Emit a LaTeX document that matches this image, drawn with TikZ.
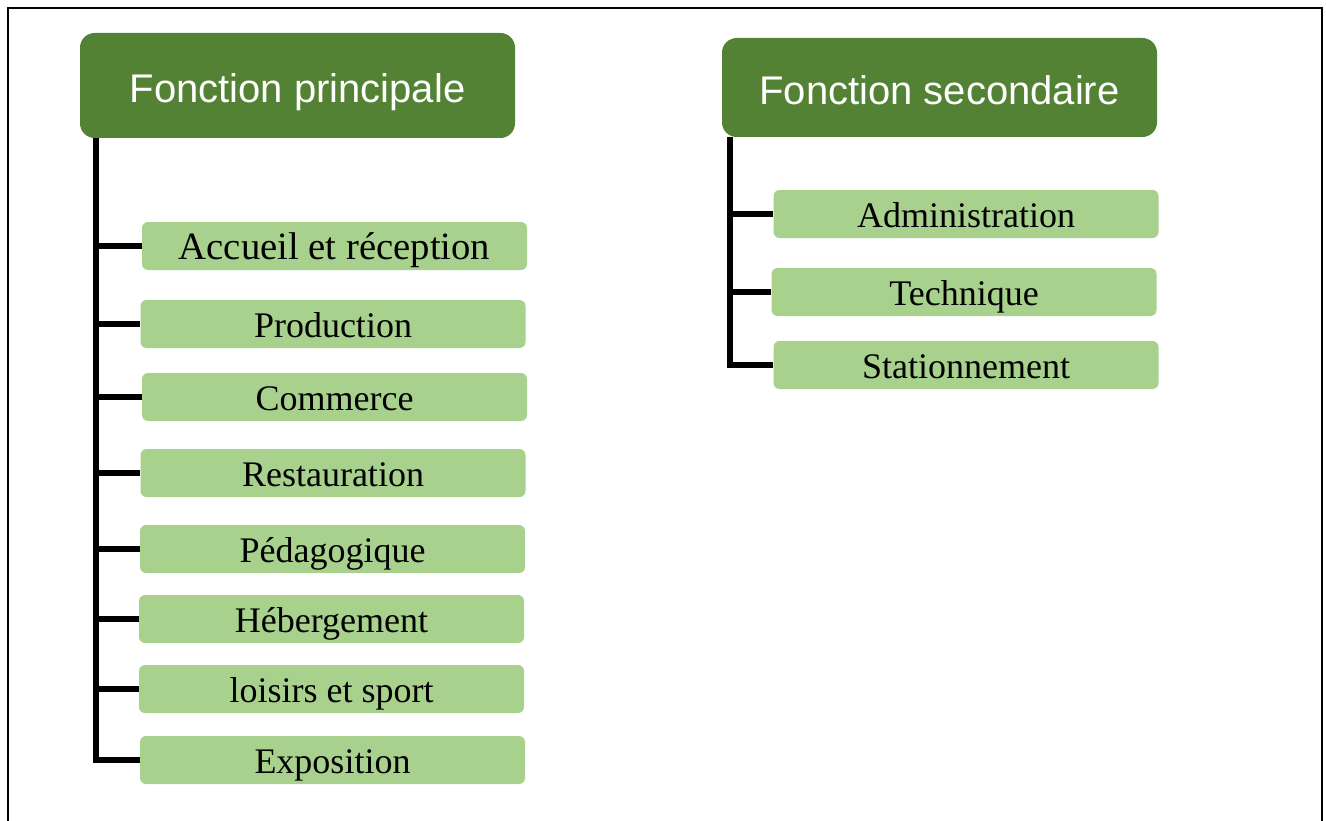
\documentclass[tikz,border=0pt]{standalone}
\usepackage{fontspec}
\setmainfont{Liberation Serif}
\newfontfamily\headfont{Liberation Sans}
\definecolor{darkgreen}{HTML}{548235}
\definecolor{lightgreen}{HTML}{A9D18E}
\begin{document}
\begin{tikzpicture}[x=0.75pt,y=-0.75pt,
  head/.style={fill=darkgreen,draw=none,rounded corners=11pt,inner sep=0pt,
    minimum width=326.25pt,text=white,font=\headfont\fontsize{30}{36}\selectfont,
    text height=25.2pt,text depth=0pt},
  item/.style={fill=lightgreen,draw=none,rounded corners=4.5pt,inner sep=0pt,
    minimum width=288.75pt,minimum height=36pt,text=black,
    font=\fontsize{27}{32}\selectfont,text height=19.5pt,text depth=0pt},
  conn/.style={line width=3.9pt,draw=black,line cap=butt,line join=miter},
  frame/.style={line width=2.2pt,draw=black}]
\useasboundingbox (0,0) rectangle (1326,820);
\draw[frame] (8,8) rectangle (1322,840);
% headers
\node[head,minimum height=78.75pt] (h1) at (297.5,85.5) {Fonction principale};
\node[head,minimum height=74.25pt] (h2) at (939.5,87.5) {Fonction secondaire};
% left items
\node[item,font=\fontsize{29}{34}\selectfont,text height=20.9pt] (a) at (334.5,246) {Accueil et réception};
\node[item] (b) at (333,324) {Production};
\node[item] (c) at (334.5,397) {Commerce};
\node[item] (d) at (333,473) {Restauration};
\node[item] (e) at (332.5,549) {Pédagogique};
\node[item] (f) at (331.5,619) {Hébergement};
\node[item] (g) at (331.5,689) {loisirs et sport};
\node[item] (h) at (332.5,760) {Exposition};
% right items
\node[item] (A) at (966,214) {Administration};
\node[item] (T) at (964,292) {Technique};
\node[item] (S) at (966,365) {Stationnement};
% spines
\coordinate (ls) at (96,0);
\coordinate (rs) at (730,0);
\draw[conn] (ls |- h1.south) -- (ls |- h.west) -- (h.west);
\foreach \n in {a,b,c,d,e,f,g} {\draw[conn] (ls |- \n.west) -- (\n.west);}
\draw[conn] (rs |- h2.south) -- (rs |- S.west) -- (S.west);
\foreach \n in {A,T} {\draw[conn] (rs |- \n.west) -- (\n.west);}
\end{tikzpicture}
\end{document}
